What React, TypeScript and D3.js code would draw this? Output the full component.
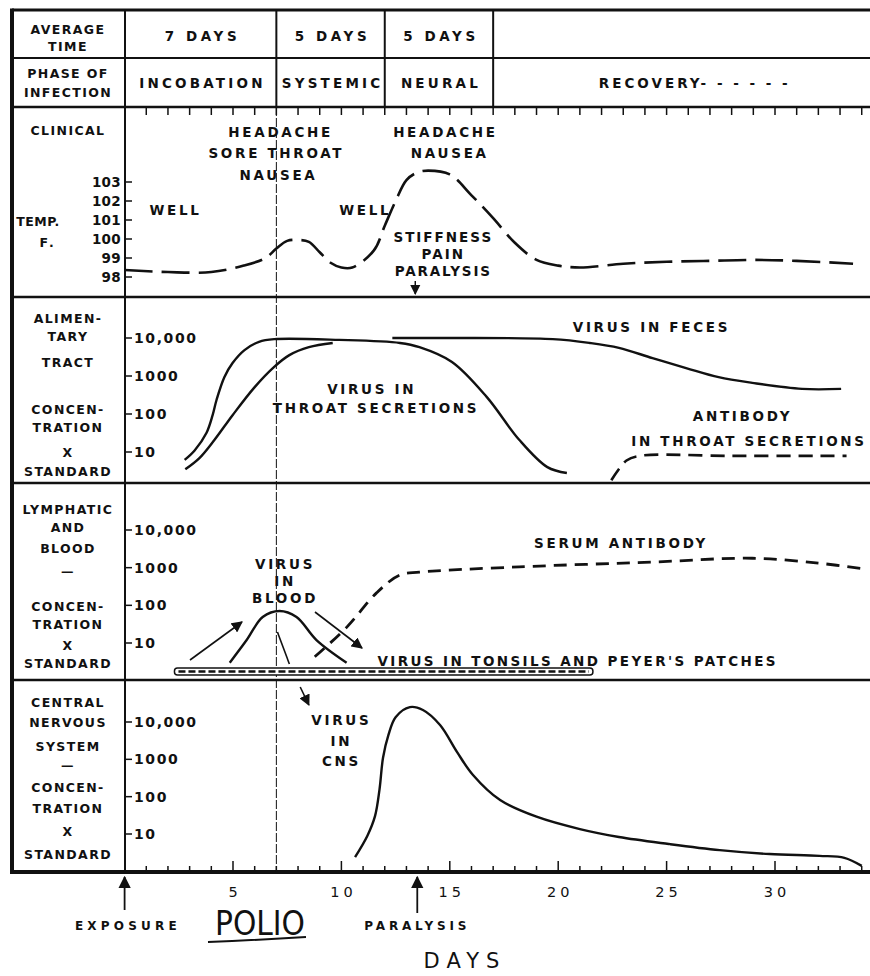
import React from 'react';
import * as d3 from 'd3';

// ---------- data ----------
const dayTicks = [5, 10, 15, 20, 25, 30];
const tempTicks = [98, 99, 100, 101, 102, 103];
const concTicks = [10, 100, 1000, 10000];
const concTickLabels = ['10', '100', '1000', '10,000'];

const phaseDays = [7, 5, 5];
const phaseNames = ['INCOBATION', 'SYSTEMIC', 'NEURAL'];

const tempDays = [0, 2, 4, 5.5, 6.5, 7, 7.5, 8, 8.5, 9, 9.5, 10, 10.5, 11.5, 12, 12.5, 13, 13.5, 14, 15, 16, 17, 18, 19, 20, 21, 23, 25, 27, 29, 31, 33.6];
const tempValues = [98.37, 98.26, 98.26, 98.6, 99.0, 99.5, 99.9, 99.95, 99.85, 99.3, 98.75, 98.5, 98.5, 99.4, 100.7, 102.0, 103.1, 103.5, 103.6, 103.4, 102.3, 101.1, 99.8, 98.9, 98.6, 98.5, 98.7, 98.8, 98.85, 98.9, 98.85, 98.7];

const throatDays = [2.77, 3.23, 3.78, 4.06, 4.24, 4.6, 4.98, 5.53, 6.2, 6.9, 9.9, 12.7, 13.6, 15.1, 16.7, 18.2, 19.5, 20.4];
const throatVirus = [6.2, 11, 32, 93, 234, 930, 2190, 4790, 7940, 9330, 8910, 7410, 5750, 2340, 282, 21, 4, 2.8];

const fecesDays = [2.8, 3.45, 4.15, 4.98, 6.0, 6.9, 7.6, 8.5, 9.6, 11, 12.35, 15.0, 19.75, 21.45, 22.8, 24.35, 25.9, 27.4, 28.95, 31.25, 33.05];
const fecesVirus = [3.5, 6.9, 21, 93, 510, 1740, 3550, 5750, 7410, NaN, 10000, 10000, 9330, 7410, 5500, 2950, 1620, 930, 660, 457, 457];

const throatAbDays = [22.45, 23.15, 23.75, 28, 33.3];
const throatAb = [1.8, 6.0, 7.9, 7.9, 7.9];

const bloodDays = [4.85, 5.63, 6.37, 7.15, 7.93, 8.85, 10.24];
const bloodVirus = [3, 12, 49, 71, 49, 12, 3];

const serumDays = [8.77, 10.24, 11.62, 12.68, 13.6, 18.2, 24.35, 28.95, 32.0, 34.2];
const serumAb = [4.3, 26, 214, 630, 760, 1050, 1410, 1780, 1320, 910];

const tonsilDays = [2.3, 21.6];

const cnsDays = [10.63, 11.2, 11.55, 11.76, 11.92, 12.17, 12.5, 13.16, 13.76, 14.55, 15.33, 16.07, 17.32, 19.0, 21.0, 22.8, 25.1, 27.45, 29.75, 32.05, 33.2, 34.0];
const cnsVirus = [2.4, 9, 30, 160, 1100, 4500, 13500, 25100, 21000, 8300, 1580, 380, 81, 29, 13.5, 8.3, 5.4, 3.7, 2.9, 2.6, 2.3, 1.4];

const exposureDay = 0;
const paralysisDay = 13.5;

// ---------- drawing ----------
const W = 870;
const H = 976;
const FONT = "'DejaVu Sans', sans-serif";

const x = d3.scaleLinear().domain([0, 30]).range([124.6, 775]);
const yTemp = d3.scaleLinear().domain([98, 103]).range([277, 182]);
const yAlim = d3.scaleLog().domain([10, 10000]).range([452, 338]);
const yLymph = d3.scaleLog().domain([10, 10000]).range([643, 530]);
const yCns = d3.scaleLog().domain([10, 10000]).range([834, 722]);

function pathFor(days: number[], vals: number[], y: any) {
  const pts = days.map((d, i) => [d, vals[i]] as [number, number]);
  return d3
    .line<[number, number]>()
    .defined((p) => !isNaN(p[1]))
    .x((p) => x(p[0]))
    .y((p) => y(p[1]))
    .curve(d3.curveCatmullRom.alpha(0.5))(pts) as string;
}

const T = (props: any) => (
  <text
    fontFamily={FONT}
    fontWeight="bold"
    fontSize={13.5}
    letterSpacing={2.7}
    textAnchor="middle"
    fill="#111"
    {...props}
  />
);

function LogAxis({ y }: { y: any }) {
  return (
    <g>
      {concTicks.map((v, i) => (
        <g key={v}>
          <line x1={125} x2={132} y1={y(v)} y2={y(v)} stroke="#111" strokeWidth={1.5} />
          <T x={134} y={y(v) + 5} textAnchor="start" letterSpacing={1.6} fontSize={14}>
            {concTickLabels[i]}
          </T>
        </g>
      ))}
    </g>
  );
}

function LeftLabel({ lines, ys }: { lines: string[]; ys: number[] }) {
  return (
    <g>
      {lines.map((l, i) => (
        <T key={i} x={68} y={ys[i]} fontSize={12.5} letterSpacing={1.4}>
          {l}
        </T>
      ))}
    </g>
  );
}

export default function App() {
  const dayAll = d3.range(1, 35);
  const phaseEdges = Array.from(d3.cumsum(phaseDays));
  const phaseStarts = [0, ...phaseEdges.slice(0, -1)];
  return (
    <svg
      width={W}
      height={H}
      viewBox={`0 0 ${W} ${H}`}
      style={{ position: 'absolute', left: 0, top: 0, background: '#fff' }}
    >
      <defs>
        <marker id="ah" viewBox="0 0 10 10" refX={9} refY={5} markerWidth={7} markerHeight={7} orient="auto">
          <path d="M0,0 L10,5 L0,10 z" fill="#111" />
        </marker>
      </defs>
      <rect width={W} height={H} fill="#fff" />

      {/* frame */}
      <g stroke="#111" fill="none">
        <line x1={12} x2={W} y1={10} y2={10} strokeWidth={3} />
        <line x1={12} x2={W} y1={58} y2={58} strokeWidth={2} />
        <line x1={12} x2={W} y1={107} y2={107} strokeWidth={2.5} />
        <line x1={12} x2={W} y1={297} y2={297} strokeWidth={2.5} />
        <line x1={12} x2={W} y1={483} y2={483} strokeWidth={2.5} />
        <line x1={12} x2={W} y1={680} y2={680} strokeWidth={2.5} />
        <line x1={12} x2={W} y1={872} y2={872} strokeWidth={4} />
        <line x1={12} x2={12} y1={8.5} y2={874} strokeWidth={4} />
        <line x1={125} x2={125} y1={10} y2={872} strokeWidth={2} />
        {phaseEdges.map((d) => (
          <line key={d} x1={x(d)} x2={x(d)} y1={10} y2={107} strokeWidth={2} />
        ))}
        <line x1={x(7)} x2={x(7)} y1={107} y2={872} strokeWidth={1} strokeDasharray="9,2" />
        {dayAll.map((d) => (
          <line key={'tt' + d} x1={x(d)} x2={x(d)} y1={107} y2={115} strokeWidth={1.5} />
        ))}
        {dayAll.map((d) => (
          <line key={'bt' + d} x1={x(d)} x2={x(d)} y1={872} y2={d % 5 === 0 ? 861 : 866} strokeWidth={1.5} />
        ))}
      </g>

      {/* header rows */}
      <LeftLabel lines={['AVERAGE', 'TIME']} ys={[34, 51]} />
      <LeftLabel lines={['PHASE OF', 'INFECTION']} ys={[78, 97]} />
      {phaseDays.map((n, i) => (
        <T key={'pd' + i} x={x(phaseStarts[i] + n / 2) + 2} y={41} letterSpacing={3.6}>
          {`${n} DAYS`}
        </T>
      ))}
      {phaseNames.map((n, i) => (
        <T key={'pn' + i} x={x(phaseStarts[i] + phaseDays[i] / 2) + 2} y={88} letterSpacing={3.2}>
          {n}
        </T>
      ))}
      <T x={x(26.3)} y={88} letterSpacing={3}>RECOVERY- - - - - -</T>

      {/* clinical panel */}
      <LeftLabel lines={['CLINICAL']} ys={[135]} />
      <T x={38} y={226} fontSize={12.5} letterSpacing={0.5}>TEMP.</T>
      <T x={48} y={247} fontSize={12.5}>F.</T>
      {tempTicks.map((t) => (
        <g key={t}>
          <line x1={125} x2={132} y1={yTemp(t)} y2={yTemp(t)} stroke="#111" strokeWidth={1.5} />
          <T x={121} y={yTemp(t) + 5} textAnchor="end" letterSpacing={0.3} fontSize={13.5}>
            {t}
          </T>
        </g>
      ))}
      <path d={pathFor(tempDays, tempValues, yTemp)} fill="none" stroke="#111" strokeWidth={2.6} strokeDasharray="28,9" />
      <T x={x(2.35)} y={215}>WELL</T>
      <T x={x(11.1)} y={215}>WELL</T>
      <T x={x(7.2)} y={137}>HEADACHE</T>
      <T x={x(7.0)} y={158}>SORE THROAT</T>
      <T x={x(7.1)} y={180}>NAUSEA</T>
      <T x={x(14.8)} y={137}>HEADACHE</T>
      <T x={x(15.0)} y={158}>NAUSEA</T>
      <T x={x(14.7)} y={242} letterSpacing={2}>STIFFNESS</T>
      <T x={x(14.7)} y={259} letterSpacing={2}>PAIN</T>
      <T x={x(14.7)} y={276} letterSpacing={1.8}>PARALYSIS</T>
      <line x1={x(paralysisDay) - 2} x2={x(paralysisDay) - 2} y1={281} y2={294} stroke="#111" strokeWidth={1.5} markerEnd="url(#ah)" />

      {/* alimentary panel */}
      <LeftLabel
        lines={['ALIMEN-', 'TARY', 'TRACT', 'CONCEN-', 'TRATION', 'X', 'STANDARD']}
        ys={[323, 341, 367, 414, 432, 457, 476]}
      />
      <LogAxis y={yAlim} />
      <path d={pathFor(throatDays, throatVirus, yAlim)} fill="none" stroke="#111" strokeWidth={2.4} />
      <path d={pathFor(fecesDays, fecesVirus, yAlim)} fill="none" stroke="#111" strokeWidth={2.4} />
      <path d={pathFor(throatAbDays, throatAb, yAlim)} fill="none" stroke="#111" strokeWidth={2.6} strokeDasharray="14,8" />
      <T x={x(24.3)} y={332}>VIRUS IN FECES</T>
      <T x={x(11.4)} y={394}>VIRUS IN</T>
      <T x={x(11.6)} y={413}>THROAT SECRETIONS</T>
      <T x={x(28.5)} y={421}>ANTIBODY</T>
      <T x={x(28.8)} y={446}>IN THROAT SECRETIONS</T>

      {/* lymphatic panel */}
      <LeftLabel
        lines={['LYMPHATIC', 'AND', 'BLOOD', '—', 'CONCEN-', 'TRATION', 'X', 'STANDARD']}
        ys={[514, 532, 553, 576, 611, 629, 650, 668]}
      />
      <LogAxis y={yLymph} />
      <path d={pathFor(bloodDays, bloodVirus, yLymph)} fill="none" stroke="#111" strokeWidth={2.4} />
      <path d={pathFor(serumDays, serumAb, yLymph)} fill="none" stroke="#111" strokeWidth={2.8} strokeDasharray="13,8" />
      <rect
        x={x(tonsilDays[0])}
        y={668}
        width={x(tonsilDays[1]) - x(tonsilDays[0])}
        height={7}
        rx={3}
        fill="#fff"
        stroke="#111"
        strokeWidth={1.5}
      />
      <line
        x1={x(tonsilDays[0]) + 4}
        x2={x(tonsilDays[1]) - 4}
        y1={671.5}
        y2={671.5}
        stroke="#111"
        strokeWidth={2.5}
        strokeDasharray="7,3"
      />
      <T x={x(7.4)} y={569}>VIRUS</T>
      <T x={x(7.4)} y={586}>IN</T>
      <T x={x(7.4)} y={603}>BLOOD</T>
      <T x={x(22.9)} y={548}>SERUM ANTIBODY</T>
      <T x={x(20.9)} y={666} letterSpacing={2.4}>VIRUS IN TONSILS AND PEYER'S PATCHES</T>
      <g stroke="#111" strokeWidth={1.6} fill="none">
        <line x1={190} y1={660} x2={242} y2={622} markerEnd="url(#ah)" />
        <line x1={315} y1={612} x2={362} y2={648} markerEnd="url(#ah)" />
        <line x1={x(7.05)} y1={632} x2={x(7.6)} y2={664} />
        <line x1={x(8.1)} y1={687} x2={x(8.5)} y2={705} markerEnd="url(#ah)" />
      </g>

      {/* CNS panel */}
      <LeftLabel
        lines={['CENTRAL', 'NERVOUS', 'SYSTEM', '—', 'CONCEN-', 'TRATION', 'X', 'STANDARD']}
        ys={[707, 727, 751, 770, 792, 813, 836, 859]}
      />
      <LogAxis y={yCns} />
      <path d={pathFor(cnsDays, cnsVirus, yCns)} fill="none" stroke="#111" strokeWidth={2.4} />
      <T x={x(10)} y={725}>VIRUS</T>
      <T x={x(10)} y={746}>IN</T>
      <T x={x(10)} y={766}>CNS</T>

      {/* x axis labels */}
      {dayTicks.map((d) => (
        <T key={'dl' + d} x={x(d) + 2} y={897} fontWeight="normal" fontSize={14.5} letterSpacing={4}>
          {d}
        </T>
      ))}
      <line x1={x(exposureDay)} x2={x(exposureDay)} y1={910} y2={877} stroke="#111" strokeWidth={1.8} markerEnd="url(#ah)" />
      <line x1={x(paralysisDay)} x2={x(paralysisDay)} y1={913} y2={877} stroke="#111" strokeWidth={1.8} markerEnd="url(#ah)" />
      <T x={x(0.15)} y={930} fontSize={12} letterSpacing={4.2}>EXPOSURE</T>
      <T x={x(13.5)} y={930} fontSize={12} letterSpacing={3.8}>PARALYSIS</T>
      <text
        x={215}
        y={935}
        fontFamily={FONT}
        fontWeight="normal"
        fontSize={34}
        textLength={90}
        lengthAdjust="spacingAndGlyphs"
        fill="#111"
      >
        POLIO
      </text>
      <path d="M208,942 Q258,940 306,937" stroke="#111" strokeWidth={2} fill="none" />
      <T x={x(15.7)} y={968} fontWeight="normal" fontSize={21} letterSpacing={7}>DAYS</T>
    </svg>
  );
}
